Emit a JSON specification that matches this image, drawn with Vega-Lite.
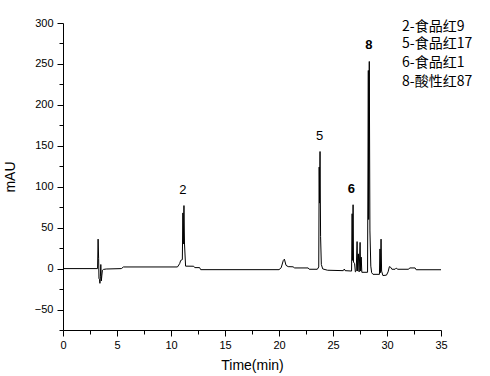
{
  "$schema": "https://vega.github.io/schema/vega-lite/v6.json",
  "width": 378,
  "height": 307,
  "autosize": "none",
  "padding": {"left": 63, "top": 23, "right": 49, "bottom": 46},
  "background": "white",
  "config": {
    "view": {"stroke": null},
    "axis": {
      "grid": false,
      "domainColor": "black",
      "tickColor": "black",
      "labelColor": "black",
      "titleColor": "black",
      "labelFont": "Liberation Sans",
      "titleFont": "Liberation Sans",
      "labelFontSize": 11,
      "titleFontSize": 14,
      "titleFontWeight": "normal"
    }
  },
  "datasets": {
    "trace": [
      {"t": 0, "v": 0}, {"t": 3.2, "v": 0}, {"t": 3.25, "v": 36}, {"t": 3.3, "v": 12},
      {"t": 3.33, "v": -12}, {"t": 3.38, "v": -13}, {"t": 3.42, "v": -18}, {"t": 3.46, "v": -10},
      {"t": 3.5, "v": 5}, {"t": 3.55, "v": -15}, {"t": 3.6, "v": -8}, {"t": 3.65, "v": -2},
      {"t": 3.75, "v": -1}, {"t": 4.0, "v": -0.5}, {"t": 5.4, "v": 0}, {"t": 5.6, "v": 2},
      {"t": 10.6, "v": 2}, {"t": 10.8, "v": 6}, {"t": 10.9, "v": 10}, {"t": 11.05, "v": 11},
      {"t": 11.1, "v": 68}, {"t": 11.14, "v": 30}, {"t": 11.2, "v": 77}, {"t": 11.25, "v": 30},
      {"t": 11.35, "v": 3}, {"t": 12.1, "v": 2.9}, {"t": 12.2, "v": 1.2}, {"t": 12.65, "v": 1.2},
      {"t": 12.75, "v": -1.3}, {"t": 20.0, "v": -1.3}, {"t": 20.2, "v": 1}, {"t": 20.4, "v": 10},
      {"t": 20.5, "v": 11.5}, {"t": 20.65, "v": 4}, {"t": 20.85, "v": 2.4}, {"t": 21.3, "v": 2.2},
      {"t": 21.45, "v": 0.8}, {"t": 22.7, "v": 0.8}, {"t": 22.8, "v": -0.8}, {"t": 23.55, "v": -0.8},
      {"t": 23.68, "v": 2}, {"t": 23.72, "v": 124}, {"t": 23.75, "v": 80}, {"t": 23.8, "v": 143},
      {"t": 23.85, "v": 39}, {"t": 23.92, "v": 5}, {"t": 24.05, "v": -0.4}, {"t": 24.5, "v": -2},
      {"t": 25.95, "v": -2.5}, {"t": 26.05, "v": -0.5}, {"t": 26.12, "v": -2.5}, {"t": 26.72, "v": -3},
      {"t": 26.77, "v": 67}, {"t": 26.81, "v": 10}, {"t": 26.86, "v": 78}, {"t": 26.9, "v": 8},
      {"t": 27.0, "v": 6}, {"t": 27.07, "v": -4}, {"t": 27.15, "v": -3}, {"t": 27.23, "v": 33},
      {"t": 27.28, "v": -3}, {"t": 27.35, "v": 18}, {"t": 27.42, "v": -4}, {"t": 27.51, "v": 32},
      {"t": 27.56, "v": -3}, {"t": 27.61, "v": 14}, {"t": 27.67, "v": -4.5}, {"t": 28.2, "v": -4.5},
      {"t": 28.27, "v": 242}, {"t": 28.3, "v": 60}, {"t": 28.36, "v": 253}, {"t": 28.42, "v": 46},
      {"t": 28.5, "v": 3}, {"t": 28.58, "v": -5}, {"t": 28.7, "v": -7}, {"t": 29.3, "v": -7},
      {"t": 29.35, "v": 24}, {"t": 29.39, "v": -5}, {"t": 29.45, "v": 36}, {"t": 29.5, "v": -3},
      {"t": 29.62, "v": -8.5}, {"t": 29.95, "v": -8}, {"t": 30.1, "v": -4}, {"t": 30.22, "v": 2.4},
      {"t": 30.35, "v": 1.5}, {"t": 30.45, "v": -0.8}, {"t": 30.75, "v": -0.8}, {"t": 30.85, "v": 0.6},
      {"t": 31.0, "v": -0.8}, {"t": 32.0, "v": -0.8}, {"t": 32.1, "v": 0.8}, {"t": 32.6, "v": 0.8},
      {"t": 32.7, "v": -1.4}, {"t": 35.0, "v": -1.4}
    ],
    "peaks": [
      {"peak": "2", "t": 11.1, "v": 77, "bold": false},
      {"peak": "5", "t": 23.75, "v": 143, "bold": false},
      {"peak": "6", "t": 26.7, "v": 78, "bold": true},
      {"peak": "8", "t": 28.33, "v": 253, "bold": true}
    ],
    "legend": [
      {"label": "2-食品红9", "t": 31.39, "v": 295.5},
      {"label": "5-食品红17", "t": 31.39, "v": 274.3},
      {"label": "6-食品红1", "t": 31.39, "v": 251.7},
      {"label": "8-酸性红87", "t": 31.39, "v": 228.1}
    ]
  },
  "encoding": {
    "x": {
      "field": "t", "type": "quantitative",
      "scale": {"domain": [0, 35], "nice": false, "zero": false},
      "axis": {
        "title": "Time(min)",
        "values": [0, 2.5, 5, 7.5, 10, 12.5, 15, 17.5, 20, 22.5, 25, 27.5, 30, 32.5, 35],
        "labelExpr": "datum.value % 5 === 0 ? datum.label : ''",
        "tickSize": {"condition": {"test": "datum.value % 5 === 0", "value": 6}, "value": 4},
        "labelPadding": 3,
        "titlePadding": 8,
        "labelOverlap": false,
        "labelFlush": false
      }
    },
    "y": {
      "field": "v", "type": "quantitative",
      "scale": {"domain": [-75, 300], "nice": false, "zero": false},
      "axis": {
        "title": "mAU",
        "values": [-75, -50, -25, 0, 25, 50, 75, 100, 125, 150, 175, 200, 225, 250, 275, 300],
        "labelExpr": "datum.value % 50 === 0 ? datum.label : ''",
        "tickSize": {"condition": {"test": "datum.value % 50 === 0", "value": 6}, "value": 4},
        "labelPadding": 4,
        "titlePadding": 17,
        "labelOverlap": false,
        "labelFlush": false
      }
    }
  },
  "layer": [
    {
      "data": {"name": "trace"},
      "mark": {"type": "line", "color": "black", "strokeWidth": 1, "clip": true}
    },
    {
      "data": {"name": "peaks"},
      "transform": [{"filter": "!datum.bold"}],
      "mark": {"type": "text", "font": "Liberation Sans", "fontSize": 13, "baseline": "bottom", "dy": -9, "color": "black"},
      "encoding": {"text": {"field": "peak"}}
    },
    {
      "data": {"name": "peaks"},
      "transform": [{"filter": "datum.bold"}],
      "mark": {"type": "text", "font": "Liberation Sans", "fontSize": 13, "fontWeight": "bold", "baseline": "bottom", "dy": -9, "color": "black"},
      "encoding": {"text": {"field": "peak"}}
    },
    {
      "data": {"name": "legend"},
      "mark": {"type": "text", "font": "Noto Sans CJK SC", "fontSize": 14, "align": "left", "baseline": "middle", "color": "black"},
      "encoding": {"text": {"field": "label"}}
    }
  ]
}
